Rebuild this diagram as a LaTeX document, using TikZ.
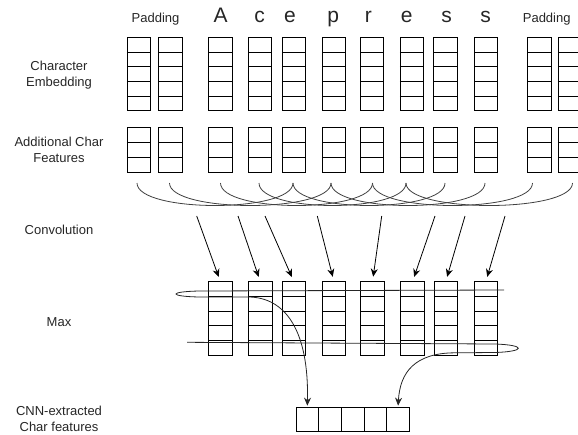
\documentclass[tikz,border=0pt]{standalone}
\usepackage{fontspec}
\setmainfont{Liberation Sans}
\usetikzlibrary{calc,arrows.meta}
\begin{document}
\begin{tikzpicture}[x=1pt,y=-1pt,
  colbox/.style={draw, line width=0.8pt, minimum width=23.5pt, inner sep=0pt, outer sep=0pt},
  cellline/.style={line width=0.8pt},
  lbl/.style={font=\fontsize{13}{16.5}\selectfont, align=center, text=black!85},
  padlbl/.style={font=\fontsize{13}{16}\selectfont, anchor=base, text=black!85},
  letter/.style={font=\fontsize{21}{24}\selectfont, anchor=base, text=black!85},
  conv/.style={line width=0.8pt, black!75},
  arr/.style={line width=0.8pt, -{Stealth[length=8pt,width=7pt]}},
  maxline/.style={line width=0.8pt, black!85}]
\useasboundingbox (0,0) rectangle (578,434);

% left labels
\node[lbl] (lemb) at (59,75) {Character\\Embedding};
\node[lbl] (lfeat) at (59,150) {Additional Char\\Features};
\node[lbl] (lconv) at (59,230) {Convolution};
\node[lbl] (lmax) at (59,321.7) {Max};
\node[lbl] (lcnn) at (59,419) {CNN-extracted\\Char features};

% top labels
\node[padlbl] (pad1) at (155.5,22.5) {Padding};
\node[padlbl] (pad2) at (546.7,22.5) {Padding};
\foreach \n/\x/\c in {1/220.7/A,2/259.5/c,3/290/e,4/333.3/p,5/368.3/r,6/406.7/e,7/446.7/s,8/485.7/s}
  \node[letter] (ch\n) at (\x,22.7) {\c};

% embedding and feature columns
\foreach \i/\x in {1/138.7,2/170.2,3/220.4,4/260,5/293.7,6/333.7,7/372,8/411.7,9/445.5,10/485.8,11/539.2,12/569.7} {
  \node[colbox, minimum height=73.4pt] (e\i) at (\x,74) {};
  \foreach \k in {1,...,4}
    \draw[cellline] ($(e\i.north west)!\k/5!(e\i.south west)$) -- ($(e\i.north east)!\k/5!(e\i.south east)$);
  \node[colbox, minimum height=45pt] (f\i) at (\x,149.8) {};
  \foreach \k in {1,2}
    \draw[cellline] ($(f\i.north west)!\k/3!(f\i.south west)$) -- ($(f\i.north east)!\k/3!(f\i.south east)$);
}

% convolution window curves
\foreach \i/\x in {1/137,2/169.5,3/220.5,4/259,5/293,6/331,7/372.5,8/406,9/445,10/485,11/532.5,12/572.5}
  \coordinate (t\i) at (\x,183);
\foreach \i in {1,...,8} {
  \pgfmathtruncatemacro{\j}{\i+4}
  \draw[conv] (t\i) .. controls ($(t\i)+(0,30)$) and ($(t\j)+(0,30)$) .. (t\j);
}

% max columns
\foreach \i/\x in {3/220.4,4/260.3,5/293.9,6/334,7/372.5,8/412.5,9/445.7,10/485.8} {
  \node[colbox, minimum height=73.3pt] (m\i) at (\x,318.3) {};
  \foreach \k in {1,...,4}
    \draw[cellline] ($(m\i.north west)!\k/5!(m\i.south west)$) -- ($(m\i.north east)!\k/5!(m\i.south east)$);
}

% convolution outputs -> max columns
\foreach \i/\x/\m in {1/196.7/3,2/238/4,3/265/5,4/317.3/6,5/381.7/7,6/435/8,7/465/9,8/505/10} {
  \coordinate (a\i) at (\x,216);
  \draw[arr, shorten >=5pt] (a\i) -- (m\m.north);
}

% output vector
\foreach \k/\x in {1/307.3,2/330,3/352.7,4/375.3,5/398}
  \node[colbox, minimum width=22.67pt, minimum height=23.3pt] (o\k) at (\x,419.3) {};

% max selection lines
\coordinate (topstart) at (504,290);
\coordinate (botstart) at (187,342.3);
\draw[maxline, -{Stealth[length=8pt,width=7pt]}, shorten >=2pt] (topstart) -- (200,291)
  .. controls (168,291.5) and (168,296.5) .. (200,297) -- (248,297)
  .. controls (285,297) and (309,330) .. (o1.north);
\draw[maxline, -{Stealth[length=8pt,width=7pt]}, shorten >=2pt] (botstart) -- (495,344)
  .. controls (526,345) and (526,351.5) .. (495,352.5) -- (455,352.8)
  .. controls (415,353) and (400,372) .. (o5.north);
\end{tikzpicture}
\end{document}
